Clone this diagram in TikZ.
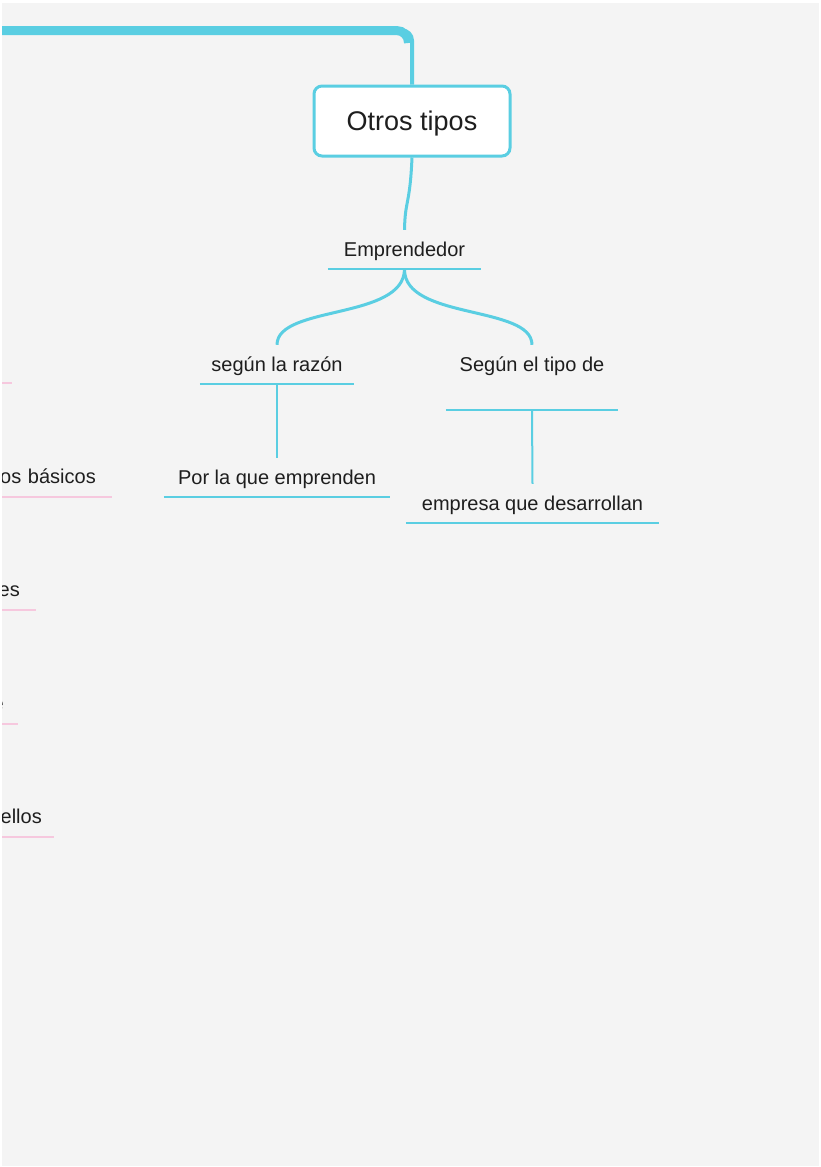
\documentclass[tikz,border=0pt]{standalone}
\usepackage{fontspec}
\setmainfont{Liberation Sans}
\definecolor{bgc}{HTML}{F4F4F4}
\definecolor{cyn}{HTML}{5ACEE2}
\definecolor{pnk}{HTML}{F6C8DE}
\definecolor{txt}{HTML}{1E1E1E}
\tikzset{
  topic/.style={inner xsep=0pt, inner ysep=13pt, text height=13pt, text depth=0pt,
    anchor=base, text=txt, font=\fontsize{20}{23}\selectfont},
  ptopic/.style={inner xsep=15pt, inner ysep=13pt, text height=13pt, text depth=0pt,
    text width=260pt, align=right, anchor=south east, text=txt, font=\fontsize{20}{23}\selectfont},
  mainbox/.style={draw=cyn, line width=3pt, fill=white, rounded corners=8pt,
    minimum width=196pt, minimum height=70pt, text height=19.3pt, text depth=0pt,
    text=txt, font=\fontsize{27}{30}\selectfont},
  uline/.style={draw=cyn, line width=2pt},
  pline/.style={draw=pnk, line width=2pt},
  conn/.style={draw=cyn, line width=3pt},
  thinconn/.style={draw=cyn, line width=2pt},
}
\begin{document}
\begin{tikzpicture}[x=1pt,y=-1pt]
\useasboundingbox (0,0) rectangle (821,1167);
\fill[white] (0,0) rectangle (821,1167);
\fill[bgc] (2,3) rectangle (819,1166);
\begin{scope}
\clip (2,3) rectangle (819,1166);
% nodes
\node[mainbox] (otros) at (412,121) {Otros tipos};
\node[topic, minimum width=153pt] (emp) at (404.5,256) {Emprendedor};
\node[topic, minimum width=154pt] (razon) at (277,371) {según la razón};
\node[topic, minimum width=226pt] (porla) at (277,484) {Por la que emprenden};
\node[topic, minimum width=172pt, text depth=26pt] (tipo) at (532,371) {Según el tipo de};
\node[topic, minimum width=253pt] (empresa) at (532.5,510) {empresa que desarrollan};
% partial pink topics on the left
\node[ptopic] (p1) at (12,383) {};
\node[ptopic, inner xsep=16pt] (p2) at (112,497) {os básicos};
\node[ptopic, inner xsep=16pt] (p3) at (36,610) {es};
\node[ptopic, inner xsep=14pt] (p4) at (18,724) {e};
\node[ptopic, inner xsep=12pt] (p5) at (54,837) {ellos};
% underlines
\foreach \n in {emp,razon,porla,tipo,empresa}
  \draw[uline] (\n.south west) -- (\n.south east);
\foreach \n in {p1,p2,p3,p4,p5}
  \draw[pline] (\n.south west) -- (\n.south east);
% top connector
\coordinate (src) at (0,30.5);
\draw[conn, line width=4pt, rounded corners=10pt] (src) -| (otros.north);
\draw[cyn, line width=9pt, rounded corners=12pt] (src) -- (408.5,30.5) -- (408.5,42);
% connectors
\draw[conn] (otros.south) .. controls (410,205) and (405,200) .. (emp.north);
\draw[conn] (emp.south) .. controls (404,320) and (277,305) .. (razon.north);
\draw[conn] (emp.south) .. controls (404,320) and (532,305) .. (tipo.north);
\draw[thinconn] (razon.south) -- (porla.north);
\draw[thinconn] (tipo.south) -- (empresa.north);
\end{scope}
\end{tikzpicture}
\end{document}
